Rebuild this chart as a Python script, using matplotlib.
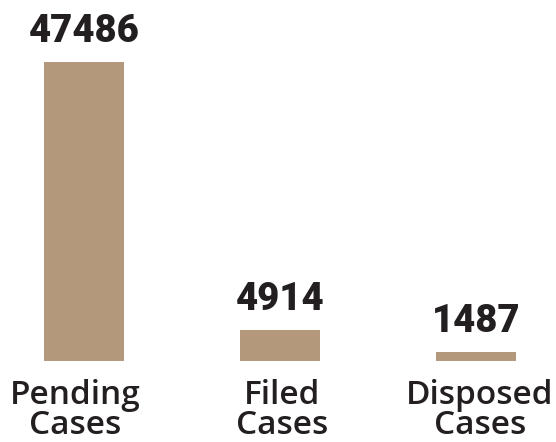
import matplotlib
matplotlib.use("Agg")
import matplotlib.pyplot as plt

categories = ["Pending\nCases", "Filed\nCases", "Disposed\nCases"]
case_counts = [47486, 4914, 1487]

BAR_COLOR = "#b3987b"
TEXT_COLOR = "#231f20"

fig = plt.figure(figsize=(5.56, 4.42), dpi=100)
ax = fig.add_axes([0, 0, 1, 1])

x = list(range(len(categories)))
bars = ax.bar(x, case_counts, width=0.41, color=BAR_COLOR)

# axis spans the full figure: bar centres 196 px apart, baseline 81 px up
ax.set_xlim(-84 / 196, (556 - 84) / 196)
ax.set_ylim(-81 / 299 * 47486, (442 - 81) / 299 * 47486)
ax.axis("off")

for bar, val in zip(bars, case_counts):
    cx = bar.get_x() + bar.get_width() / 2
    ax.annotate(str(val), (cx, val), xytext=(0, 20), textcoords="offset pixels",
                ha="center", va="baseline", fontsize=27.5, fontweight="black",
                family="Roboto", color=TEXT_COLOR)

label_shift = [-9, 2, 4]
for xi, label, dx in zip(x, categories, label_shift):
    first, second = label.split("\n")
    ax.annotate(first, (xi, 0), xytext=(dx, -43), textcoords="offset pixels",
                ha="center", va="baseline", fontsize=24, fontweight="semibold",
                family="Open Sans", color=TEXT_COLOR)
    ax.annotate(second, (xi, 0), xytext=(dx, -73), textcoords="offset pixels",
                ha="center", va="baseline", fontsize=24, fontweight="semibold",
                family="Open Sans", color=TEXT_COLOR)

fig.savefig("out.png", dpi=100)
